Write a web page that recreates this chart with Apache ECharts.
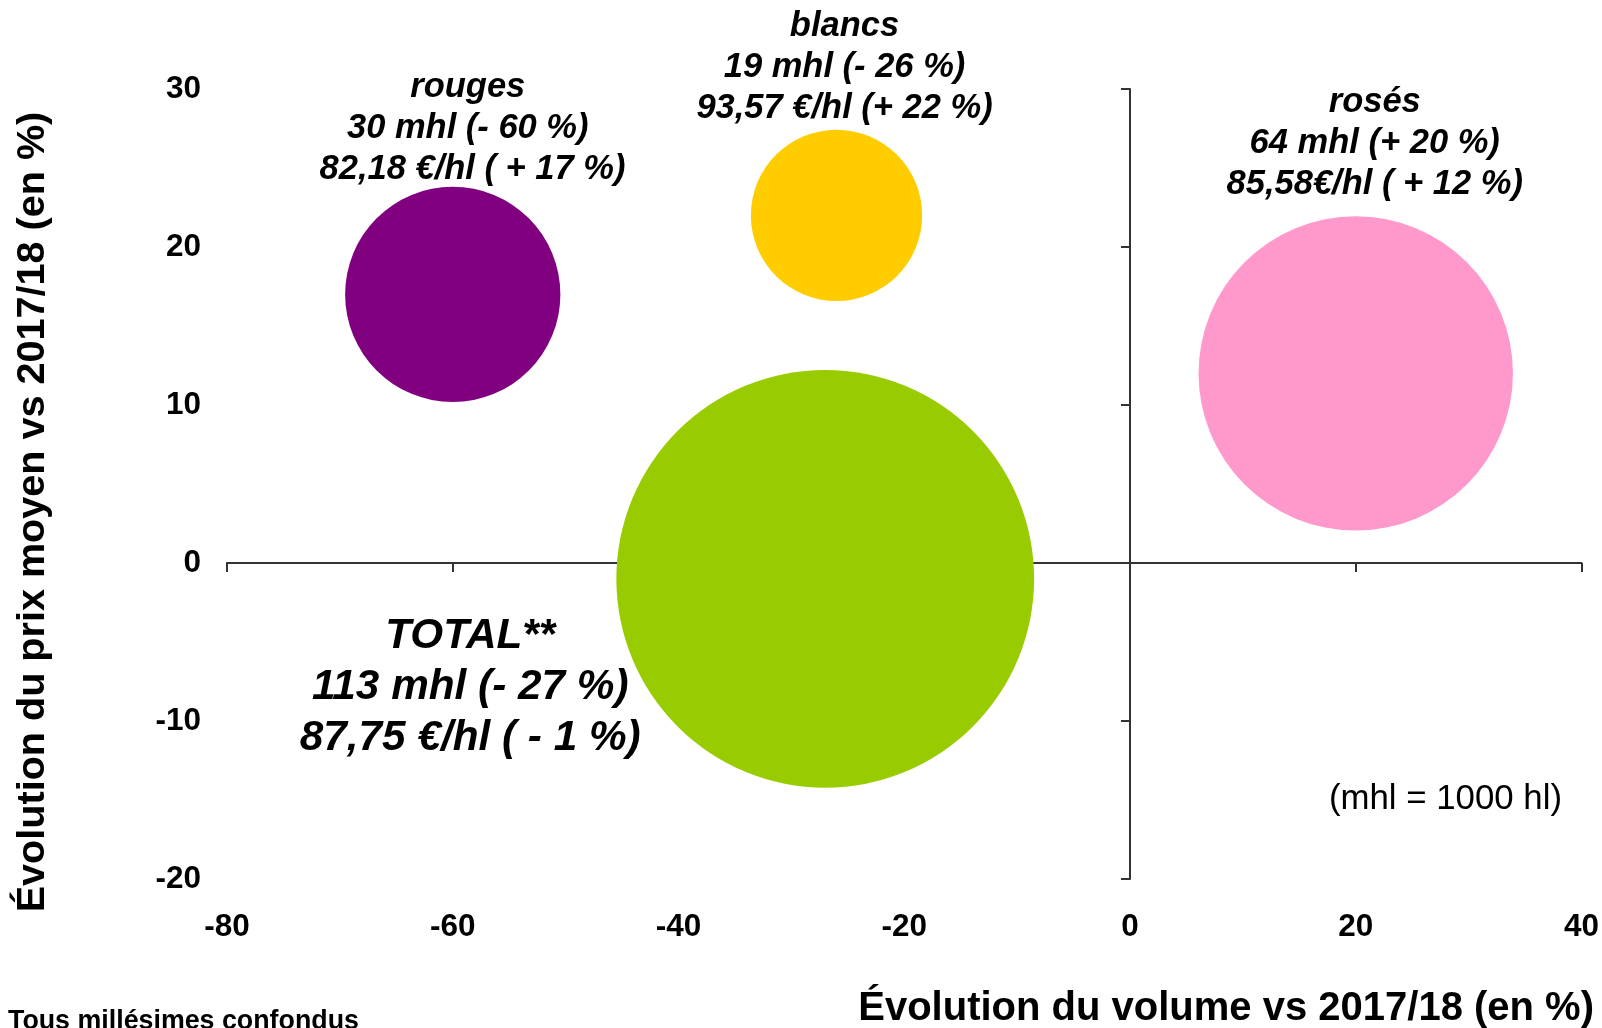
<!DOCTYPE html>
<html>
<head>
<meta charset="utf-8">
<script src="https://cdn.jsdelivr.net/npm/echarts@6/dist/echarts.min.js"></script>
<style>
html,body{margin:0;padding:0;background:#fff;}
#chart{width:1602px;height:1028px;}
</style>
</head>
<body>
<div id="chart"></div>
<script>
// ---- data ----
var names = ['rouges', 'blancs', 'rosés', 'TOTAL**'];
var volumeChange = [-60, -26, 20, -27];      // x: % change in volume
var priceChange = [17, 22, 12, -1];          // y: % change in average price
var volumes = [30, 19, 64, 113];             // mhl
var volumeLabels = ['30 mhl (- 60 %)', '19 mhl (- 26 %)', '64 mhl (+ 20 %)', '113 mhl (- 27 %)'];
var priceLabels = [' 82,18 €/hl ( + 17 %)', '93,57 €/hl (+ 22 %)', '85,58€/hl ( + 12 %)', '87,75 €/hl ( - 1 %)'];
var colors = ['#800080', '#FFCC00', '#FF99CC', '#99CC00'];
var xTicks = [-80, -60, -40, -20, 0, 20, 40];
var yTicks = [-20, -10, 0, 10, 20, 30];

var FONT = '"Liberation Sans", Arial, sans-serif';

var labelPos = [
  {position: 'top', distance: -3, offset: [15, 0], big: false},
  {position: 'top', distance: 1, offset: [8, 0], big: false},
  {position: 'top', distance: 11, offset: [19, 0], big: false},
  {position: 'inside', distance: 0, offset: [-355, 109], big: true}
];

var data = names.map(function (n, i) {
  var lp = labelPos[i];
  return {
    name: n,
    value: [volumeChange[i], priceChange[i], volumes[i]],
    itemStyle: {color: colors[i], opacity: 1},
    label: {
      show: true,
      position: lp.position,
      distance: lp.distance,
      offset: lp.offset,
      formatter: n + '\n' + volumeLabels[i] + '\n' + priceLabels[i],
      fontFamily: FONT,
      fontStyle: 'italic',
      fontWeight: 'bold',
      fontSize: lp.big ? 42.3 : 34.5,
      lineHeight: lp.big ? 51 : 41,
      color: '#000',
      align: 'center'
    }
  };
});

var chart = echarts.init(document.getElementById('chart'), null, {renderer: 'canvas'});
var tickLabelStyle = {fontFamily: FONT, fontWeight: 'bold', fontSize: 31.5, color: '#000'};

chart.setOption({
  animation: false,
  backgroundColor: '#fff',
  grid: {left: 227, right: 18, top: 89, bottom: 149, containLabel: false},
  xAxis: [
    {
      type: 'value', min: -80, max: 40, interval: 20, position: 'bottom',
      axisLine: {show: false, onZero: false}, axisTick: {show: false},
      splitLine: {show: false},
      axisLabel: Object.assign({margin: 32}, tickLabelStyle)
    },
    {
      type: 'value', min: -80, max: 40, interval: 20, position: 'bottom',
      axisLine: {show: true, onZero: true, lineStyle: {color: '#333', width: 2}},
      axisTick: {show: true, length: 9, lineStyle: {color: '#333', width: 2}},
      splitLine: {show: false}, axisLabel: {show: false}
    }
  ],
  yAxis: [
    {
      type: 'value', min: -20, max: 30, interval: 10, position: 'left',
      axisLine: {show: false, onZero: false}, axisTick: {show: false},
      splitLine: {show: false},
      axisLabel: Object.assign({margin: 26, padding: [5, 0, 0, 0]}, tickLabelStyle)
    },
    {
      type: 'value', min: -20, max: 30, interval: 10, position: 'left',
      axisLine: {show: true, onZero: true, lineStyle: {color: '#333', width: 2}},
      axisTick: {show: true, length: 9, lineStyle: {color: '#333', width: 2}},
      splitLine: {show: false}, axisLabel: {show: false}
    }
  ],
  series: [{
    type: 'scatter',
    xAxisIndex: 0, yAxisIndex: 0,
    symbol: 'circle',
    symbolSize: function (v) { return 39.3 * Math.sqrt(v[2]); },
    data: data,
    z: 3
  }],
  graphic: [
    {
      type: 'text', x: 33, y: 512, rotation: Math.PI / 2,
      style: {text: 'Évolution du prix moyen vs 2017/18 (en %)', font: 'bold 39.6px ' + FONT,
        fill: '#000', align: 'center', verticalAlign: 'middle'}
    },
    {
      type: 'text', x: 1594, y: 1009,
      style: {text: 'Évolution du volume vs 2017/18 (en %)', font: 'bold 40px ' + FONT,
        fill: '#000', align: 'right', verticalAlign: 'middle'}
    },
    {
      type: 'text', x: 8, y: 1008,
      style: {text: 'Tous millésimes confondus', font: 'bold 26.8px ' + FONT,
        fill: '#000', align: 'left', verticalAlign: 'top'}
    },
    {
      type: 'text', x: 1562, y: 799,
      style: {text: '(mhl = 1000 hl)', font: '34.8px ' + FONT,
        fill: '#000', align: 'right', verticalAlign: 'middle'}
    }
  ]
});
</script>
</body>
</html>
